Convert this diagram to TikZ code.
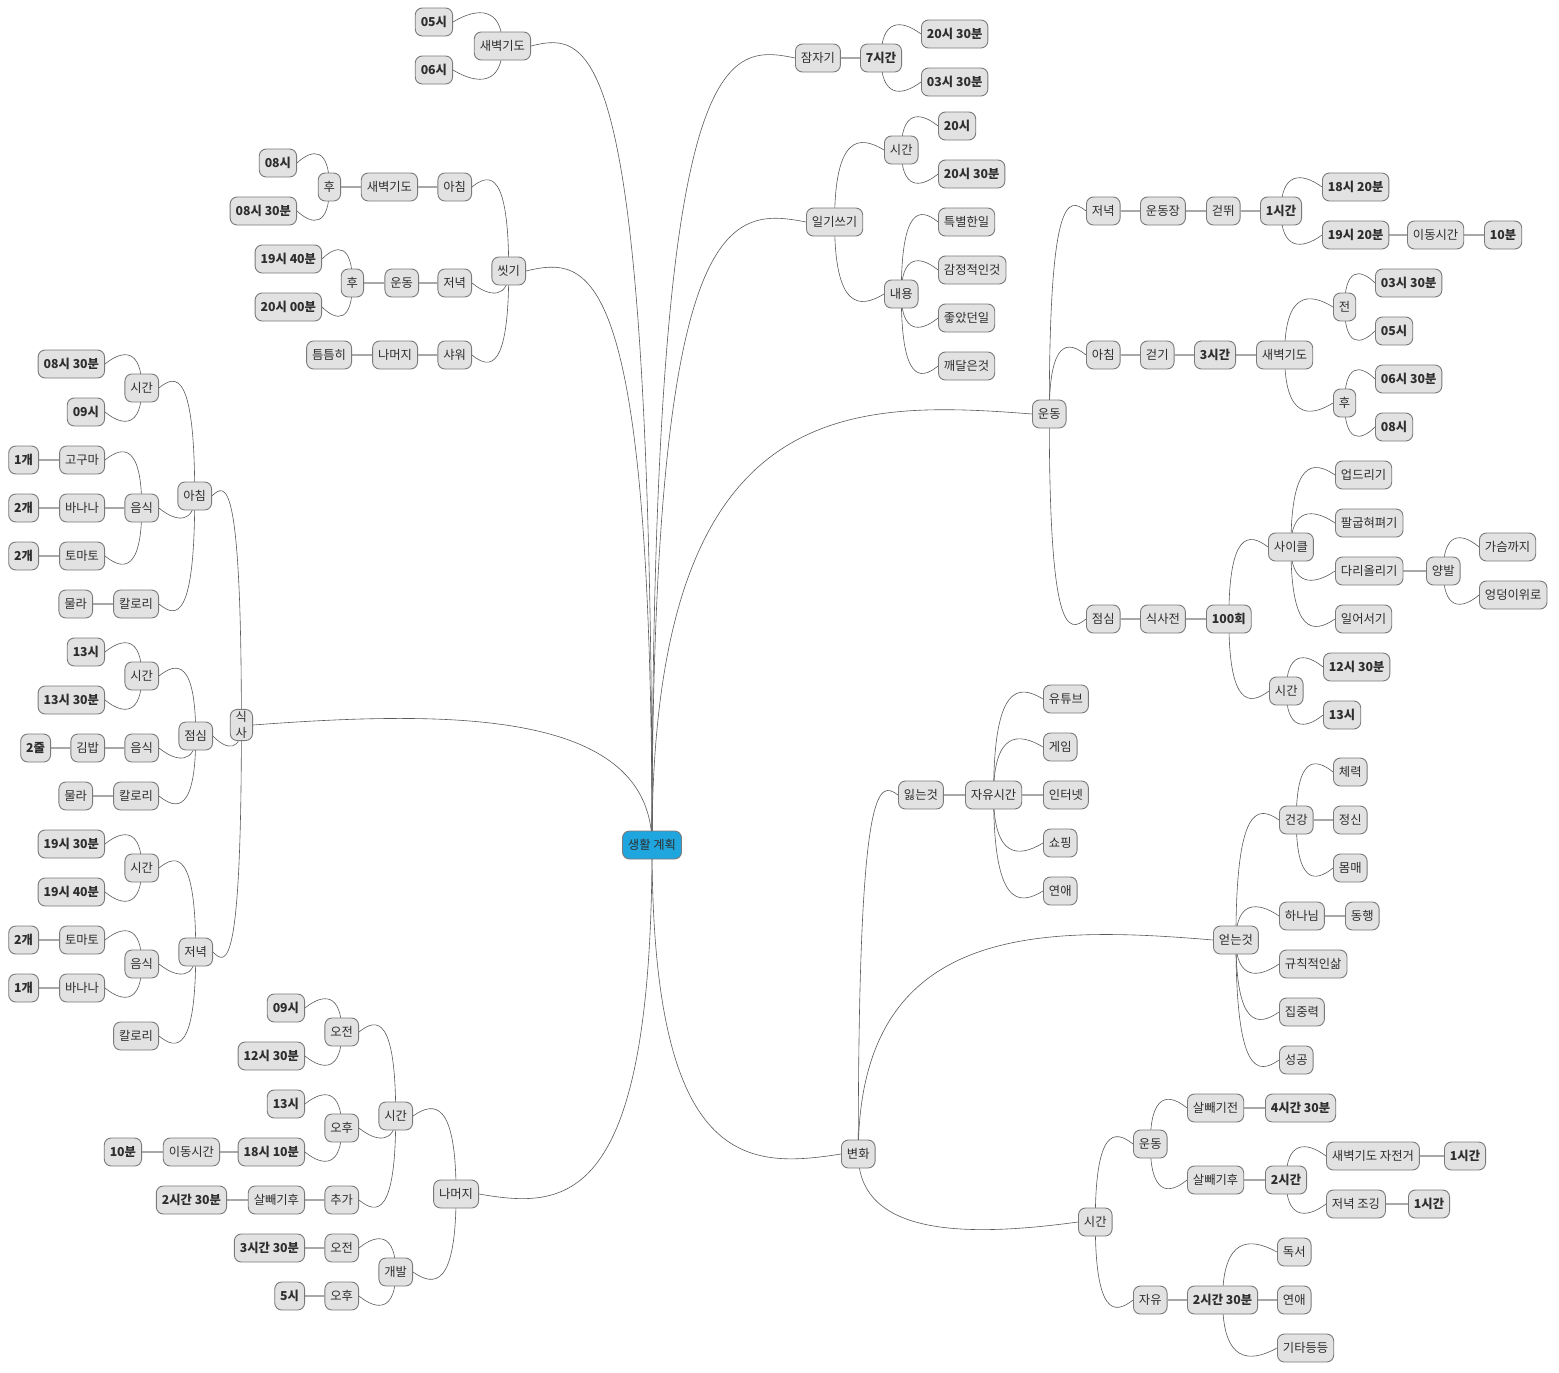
\documentclass[tikz,border=0pt]{standalone}
\usepackage{fontspec}
\setmainfont{Noto Sans CJK KR}
\usetikzlibrary{calc}
\pgfdeclarelayer{bg}
\pgfsetlayers{bg,main}
\definecolor{nfill}{HTML}{E2E2E2}
\definecolor{nline}{HTML}{7A7A7A}
\definecolor{ntext}{HTML}{2E2E2E}
\definecolor{rootfill}{HTML}{1FA6DE}
\definecolor{ecol}{HTML}{5A5A5A}
\definecolor{scol}{HTML}{A8A8A8}
\tikzset{
  nd/.style={draw=nline, fill=nfill, text=ntext, rounded corners=7pt, line width=0.9pt,
    minimum height=28pt, inner xsep=5.5pt, inner ysep=2pt, font=\fontsize{12.3}{16}\selectfont},
  nb/.style={nd, font=\fontsize{12.3}{16}\selectfont\bfseries},
  rootnd/.style={nd, fill=rootfill},
  L/.style={anchor=east},
  R/.style={anchor=west},
  edge/.style={draw=ecol, line width=0.6pt},
  sedge/.style={draw=scol, line width=1.5pt},
}
\newcommand\edRU[2]{\draw[edge] (#1.center) .. controls ($(#1.center |- #2.west)+(0,-15)$) and ($(#1.center |- #2.west)!0.5!(#2.west)+(0,-15)$) .. (#2.west);}
\newcommand\edRD[2]{\draw[edge] (#1.center) .. controls ($(#1.center |- #2.west)+(0,15)$) and ($(#1.center |- #2.west)!0.5!(#2.west)+(0,15)$) .. (#2.west);}
\newcommand\edLU[2]{\draw[edge] (#1.center) .. controls ($(#1.center |- #2.east)+(0,-15)$) and ($(#1.center |- #2.east)!0.5!(#2.east)+(0,-15)$) .. (#2.east);}
\newcommand\edLD[2]{\draw[edge] (#1.center) .. controls ($(#1.center |- #2.east)+(0,15)$) and ($(#1.center |- #2.east)!0.5!(#2.east)+(0,15)$) .. (#2.east);}
\newcommand\edS[2]{\draw[sedge] (#1) -- (#2);}
\begin{document}
\begin{tikzpicture}[x=1pt,y=-1pt]
\path[use as bounding box] (0,0) rectangle (1559,1373);

\node[rootnd] (root) at (652,845) {생활 계획};

% ---------- left side ----------
\node[nd,L] (a1) at (531,46) {새벽기도};
\node[nb,L] (a1a) at (453,22) {05시};
\node[nb,L] (a1b) at (453,70) {06시};

\node[nd,L] (a2) at (526,271) {씻기};
\node[nd,L] (a2a) at (472,187) {아침};
\node[nd,L] (a2a1) at (418,187) {새벽기도};
\node[nd,L] (a2a2) at (341,187) {후};
\node[nb,L] (a2a3) at (297,163) {08시};
\node[nb,L] (a2a4) at (297,211) {08시 30분};
\node[nd,L] (a2b) at (472,283) {저녁};
\node[nd,L] (a2b1) at (419,283) {운동};
\node[nd,L] (a2b2) at (364,283) {후};
\node[nb,L] (a2b3) at (322,259) {19시 40분};
\node[nb,L] (a2b4) at (322,307) {20시 00분};
\node[nd,L] (a2c) at (472,355) {샤워};
\node[nd,L] (a2c1) at (418,355) {나머지};
\node[nd,L] (a2c2) at (352,355) {틈틈히};

\node[nd,L,align=center] (a3) at (253,725) {식\\사};
\node[nd,L] (a3a) at (212,496) {아침};
\node[nd,L] (a3a1) at (159,388) {시간};
\node[nb,L] (a3a1a) at (105,364) {08시 30분};
\node[nb,L] (a3a1b) at (105,412) {09시};
\node[nd,L] (a3a2) at (159,508) {음식};
\node[nd,L] (a3a2a) at (105,460) {고구마};
\node[nb,L] (a3a2a1) at (39,460) {1개};
\node[nd,L] (a3a2b) at (105,508) {바나나};
\node[nb,L] (a3a2b1) at (39,508) {2개};
\node[nd,L] (a3a2c) at (105,556) {토마토};
\node[nb,L] (a3a2c1) at (39,556) {2개};
\node[nd,L] (a3a3) at (159,604) {칼로리};
\node[nd,L] (a3a3a) at (93,604) {물라};
\node[nd,L] (a3b) at (213,736) {점심};
\node[nd,L] (a3b1) at (159,676) {시간};
\node[nb,L] (a3b1a) at (105,652) {13시};
\node[nb,L] (a3b1b) at (105,700) {13시 30분};
\node[nd,L] (a3b2) at (159,748) {음식};
\node[nd,L] (a3b2a) at (105,748) {김밥};
\node[nb,L] (a3b2a1) at (51,748) {2줄};
\node[nd,L] (a3b3) at (159,796) {칼로리};
\node[nd,L] (a3b3a) at (93,796) {물라};
\node[nd,L] (a3c) at (213,952) {저녁};
\node[nd,L] (a3c1) at (159,868) {시간};
\node[nb,L] (a3c1a) at (105,844) {19시 30분};
\node[nb,L] (a3c1b) at (105,892) {19시 40분};
\node[nd,L] (a3c2) at (159,964) {음식};
\node[nd,L] (a3c2a) at (105,940) {토마토};
\node[nb,L] (a3c2a1) at (39,940) {2개};
\node[nd,L] (a3c2b) at (105,988) {바나나};
\node[nb,L] (a3c2b1) at (39,988) {1개};
\node[nd,L] (a3c3) at (159,1036) {칼로리};

\node[nd,L] (a4) at (479,1194) {나머지};
\node[nd,L] (a4a) at (413,1116) {시간};
\node[nd,L] (a4a1) at (359,1032) {오전};
\node[nb,L] (a4a1a) at (305,1008) {09시};
\node[nb,L] (a4a1b) at (305,1056) {12시 30분};
\node[nd,L] (a4a2) at (359,1128) {오후};
\node[nb,L] (a4a2a) at (305,1104) {13시};
\node[nb,L] (a4a2b) at (305,1152) {18시 10분};
\node[nd,L] (a4a2b1) at (220,1152) {이동시간};
\node[nb,L] (a4a2b2) at (142,1152) {10분};
\node[nd,L] (a4a3) at (359,1200) {추가};
\node[nd,L] (a4a3a) at (305,1200) {살빼기후};
\node[nb,L] (a4a3b) at (227,1200) {2시간 30분};
\node[nd,L] (a4b) at (413,1272) {개발};
\node[nd,L] (a4b1) at (359,1248) {오전};
\node[nb,L] (a4b1a) at (305,1248) {3시간 30분};
\node[nd,L] (a4b2) at (359,1296) {오후};
\node[nb,L] (a4b2a) at (305,1296) {5시};

% ---------- right side ----------
\node[nd,R] (b1) at (795,58) {잠자기};
\node[nb,R] (b1a) at (860,58) {7시간};
\node[nb,R] (b1a1) at (921,34) {20시 30분};
\node[nb,R] (b1a2) at (921,82) {03시 30분};

\node[nd,R] (b2) at (806,222) {일기쓰기};
\node[nd,R] (b2a) at (884,150) {시간};
\node[nb,R] (b2a1) at (938,126) {20시};
\node[nb,R] (b2a2) at (938,174) {20시 30분};
\node[nd,R] (b2b) at (884,294) {내용};
\node[nd,R] (b2b1) at (938,222) {특별한일};
\node[nd,R] (b2b2) at (938,270) {감정적인것};
\node[nd,R] (b2b3) at (938,318) {좋았던일};
\node[nd,R] (b2b4) at (938,366) {깨달은것};

\node[nd,R] (b3) at (1032,414) {운동};
\node[nd,R] (b3a) at (1086,211) {저녁};
\node[nd,R] (b3a1) at (1140,211) {운동장};
\node[nd,R] (b3a2) at (1206,211) {걷뛰};
\node[nb,R] (b3a3) at (1260,211) {1시간};
\node[nb,R] (b3a3a) at (1322,187) {18시 20분};
\node[nb,R] (b3a3b) at (1322,235) {19시 20분};
\node[nd,R] (b3a3b1) at (1407,235) {이동시간};
\node[nb,R] (b3a3b2) at (1484,235) {10분};
\node[nd,R] (b3b) at (1086,355) {아침};
\node[nd,R] (b3b1) at (1140,355) {걷기};
\node[nb,R] (b3b2) at (1194,355) {3시간};
\node[nd,R] (b3b3) at (1256,355) {새벽기도};
\node[nd,R] (b3b3a) at (1333,307) {전};
\node[nb,R] (b3b3a1) at (1375,283) {03시 30분};
\node[nb,R] (b3b3a2) at (1375,331) {05시};
\node[nd,R] (b3b3b) at (1333,403) {후};
\node[nb,R] (b3b3b1) at (1375,379) {06시 30분};
\node[nb,R] (b3b3b2) at (1375,427) {08시};
\node[nd,R] (b3c) at (1086,619) {점심};
\node[nd,R] (b3c1) at (1140,619) {식사전};
\node[nb,R] (b3c2) at (1206,619) {100회};
\node[nd,R] (b3c2a) at (1268,547) {사이클};
\node[nd,R] (b3c2a1) at (1335,475) {업드리기};
\node[nd,R] (b3c2a2) at (1335,523) {팔굽혀펴기};
\node[nd,R] (b3c2a3) at (1335,571) {다리올리기};
\node[nd,R] (b3c2a3a) at (1426,571) {양발};
\node[nd,R] (b3c2a3a1) at (1479,547) {가슴까지};
\node[nd,R] (b3c2a3a2) at (1479,595) {엉덩이위로};
\node[nd,R] (b3c2a4) at (1335,619) {일어서기};
\node[nd,R] (b3c2b) at (1269,691) {시간};
\node[nb,R] (b3c2b1) at (1323,667) {12시 30분};
\node[nb,R] (b3c2b2) at (1323,715) {13시};

\node[nd,R] (b4) at (841,1154) {변화};
\node[nd,R] (b4a) at (898,795) {잃는것};
\node[nd,R] (b4a1) at (965,795) {자유시간};
\node[nd,R] (b4a1a) at (1043,699) {유튜브};
\node[nd,R] (b4a1b) at (1043,747) {게임};
\node[nd,R] (b4a1c) at (1043,795) {인터넷};
\node[nd,R] (b4a1d) at (1043,843) {쇼핑};
\node[nd,R] (b4a1e) at (1043,891) {연애};
\node[nd,R] (b4b) at (1213,940) {얻는것};
\node[nd,R] (b4b1) at (1279,820) {건강};
\node[nd,R] (b4b1a) at (1333,772) {체력};
\node[nd,R] (b4b1b) at (1333,820) {정신};
\node[nd,R] (b4b1c) at (1333,868) {몸매};
\node[nd,R] (b4b2) at (1279,916) {하나님};
\node[nd,R] (b4b2a) at (1345,916) {동행};
\node[nd,R] (b4b3) at (1279,964) {규칙적인삶};
\node[nd,R] (b4b4) at (1279,1012) {집중력};
\node[nd,R] (b4b5) at (1279,1060) {성공};
\node[nd,R] (b4c) at (1078,1222) {시간};
\node[nd,R] (b4c1) at (1133,1144) {운동};
\node[nd,R] (b4c1a) at (1187,1108) {살빼기전};
\node[nb,R] (b4c1a1) at (1265,1108) {4시간 30분};
\node[nd,R] (b4c1b) at (1187,1180) {살빼기후};
\node[nb,R] (b4c1b1) at (1265,1180) {2시간};
\node[nd,R] (b4c1b1a) at (1326,1156) {새벽기도 자전거};
\node[nb,R] (b4c1b1a1) at (1444,1156) {1시간};
\node[nd,R] (b4c1b1b) at (1326,1204) {저녁 조깅};
\node[nb,R] (b4c1b1b1) at (1408,1204) {1시간};
\node[nd,R] (b4c2) at (1133,1300) {자유};
\node[nb,R] (b4c2a) at (1187,1300) {2시간 30분};
\node[nd,R] (b4c2a1) at (1277,1252) {독서};
\node[nd,R] (b4c2a2) at (1277,1300) {연애};
\node[nd,R] (b4c2a3) at (1277,1348) {기타등등};

\begin{pgfonlayer}{bg}
\fill[white] (0,0) rectangle (1559,1373);
% root
\edLU{root}{a1} \edLU{root}{a2} \edLU{root}{a3} \edLD{root}{a4}
\edRU{root}{b1} \edRU{root}{b2} \edRU{root}{b3} \edRD{root}{b4}
% a1
\edLU{a1}{a1a} \edLD{a1}{a1b}
% a2
\edLU{a2}{a2a} \edLD{a2}{a2b} \edLD{a2}{a2c}
\edS{a2a}{a2a1} \edS{a2a1}{a2a2} \edLU{a2a2}{a2a3} \edLD{a2a2}{a2a4}
\edS{a2b}{a2b1} \edS{a2b1}{a2b2} \edLU{a2b2}{a2b3} \edLD{a2b2}{a2b4}
\edS{a2c}{a2c1} \edS{a2c1}{a2c2}
% a3
\edLU{a3}{a3a} \edLD{a3}{a3b} \edLD{a3}{a3c}
\edLU{a3a}{a3a1} \edLD{a3a}{a3a2} \edLD{a3a}{a3a3}
\edLU{a3a1}{a3a1a} \edLD{a3a1}{a3a1b}
\edLU{a3a2}{a3a2a} \edS{a3a2}{a3a2b} \edLD{a3a2}{a3a2c}
\edS{a3a2a}{a3a2a1} \edS{a3a2b}{a3a2b1} \edS{a3a2c}{a3a2c1}
\edS{a3a3}{a3a3a}
\edLU{a3b}{a3b1} \edLD{a3b}{a3b2} \edLD{a3b}{a3b3}
\edLU{a3b1}{a3b1a} \edLD{a3b1}{a3b1b}
\edS{a3b2}{a3b2a} \edS{a3b2a}{a3b2a1}
\edS{a3b3}{a3b3a}
\edLU{a3c}{a3c1} \edLD{a3c}{a3c2} \edLD{a3c}{a3c3}
\edLU{a3c1}{a3c1a} \edLD{a3c1}{a3c1b}
\edLU{a3c2}{a3c2a} \edLD{a3c2}{a3c2b}
\edS{a3c2a}{a3c2a1} \edS{a3c2b}{a3c2b1}
% a4
\edLU{a4}{a4a} \edLD{a4}{a4b}
\edLU{a4a}{a4a1} \edLD{a4a}{a4a2} \edLD{a4a}{a4a3}
\edLU{a4a1}{a4a1a} \edLD{a4a1}{a4a1b}
\edLU{a4a2}{a4a2a} \edLD{a4a2}{a4a2b} \edS{a4a2b}{a4a2b1} \edS{a4a2b1}{a4a2b2}
\edS{a4a3}{a4a3a} \edS{a4a3a}{a4a3b}
\edLU{a4b}{a4b1} \edLD{a4b}{a4b2}
\edS{a4b1}{a4b1a} \edS{a4b2}{a4b2a}
% b1
\edS{b1}{b1a} \edRU{b1a}{b1a1} \edRD{b1a}{b1a2}
% b2
\edRU{b2}{b2a} \edRD{b2}{b2b}
\edRU{b2a}{b2a1} \edRD{b2a}{b2a2}
\edRU{b2b}{b2b1} \edRU{b2b}{b2b2} \edRD{b2b}{b2b3} \edRD{b2b}{b2b4}
% b3
\edRU{b3}{b3a} \edRU{b3}{b3b} \edRD{b3}{b3c}
\edS{b3a}{b3a1} \edS{b3a1}{b3a2} \edS{b3a2}{b3a3}
\edRU{b3a3}{b3a3a} \edRD{b3a3}{b3a3b} \edS{b3a3b}{b3a3b1} \edS{b3a3b1}{b3a3b2}
\edS{b3b}{b3b1} \edS{b3b1}{b3b2} \edS{b3b2}{b3b3}
\edRU{b3b3}{b3b3a} \edRD{b3b3}{b3b3b}
\edRU{b3b3a}{b3b3a1} \edRD{b3b3a}{b3b3a2}
\edRU{b3b3b}{b3b3b1} \edRD{b3b3b}{b3b3b2}
\edS{b3c}{b3c1} \edS{b3c1}{b3c2}
\edRU{b3c2}{b3c2a} \edRD{b3c2}{b3c2b}
\edRU{b3c2a}{b3c2a1} \edRU{b3c2a}{b3c2a2} \edRD{b3c2a}{b3c2a3} \edRD{b3c2a}{b3c2a4}
\edS{b3c2a3}{b3c2a3a} \edRU{b3c2a3a}{b3c2a3a1} \edRD{b3c2a3a}{b3c2a3a2}
\edRU{b3c2b}{b3c2b1} \edRD{b3c2b}{b3c2b2}
% b4
\edRU{b4}{b4a} \edRU{b4}{b4b} \edRD{b4}{b4c}
\edS{b4a}{b4a1}
\edRU{b4a1}{b4a1a} \edRU{b4a1}{b4a1b} \edS{b4a1}{b4a1c} \edRD{b4a1}{b4a1d} \edRD{b4a1}{b4a1e}
\edRU{b4b}{b4b1} \edRU{b4b}{b4b2} \edRD{b4b}{b4b3} \edRD{b4b}{b4b4} \edRD{b4b}{b4b5}
\edRU{b4b1}{b4b1a} \edS{b4b1}{b4b1b} \edRD{b4b1}{b4b1c}
\edS{b4b2}{b4b2a}
\edRU{b4c}{b4c1} \edRD{b4c}{b4c2}
\edRU{b4c1}{b4c1a} \edRD{b4c1}{b4c1b}
\edS{b4c1a}{b4c1a1} \edS{b4c1b}{b4c1b1}
\edRU{b4c1b1}{b4c1b1a} \edRD{b4c1b1}{b4c1b1b}
\edS{b4c1b1a}{b4c1b1a1} \edS{b4c1b1b}{b4c1b1b1}
\edS{b4c2}{b4c2a}
\edRU{b4c2a}{b4c2a1} \edS{b4c2a}{b4c2a2} \edRD{b4c2a}{b4c2a3}
\end{pgfonlayer}
\end{tikzpicture}
\end{document}
